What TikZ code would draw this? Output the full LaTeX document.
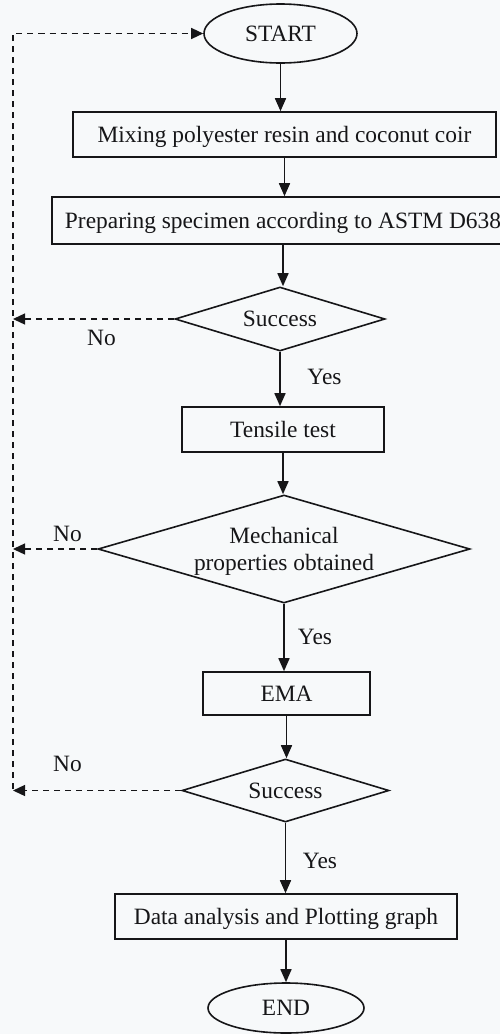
\documentclass[tikz,border=0pt]{standalone}
\usepackage{fontspec}
\setmainfont{Liberation Serif}
\usetikzlibrary{shapes.geometric,arrows.meta}
\definecolor{ink}{RGB}{22,22,24}
\definecolor{bgc}{RGB}{247,249,250}
\begin{document}
\begin{tikzpicture}[x=1pt,y=-1pt,
  every node/.style={font=\fontsize{23.4}{27}\selectfont, text=ink},
  procbox/.style={draw=ink, line width=1.6pt, rectangle, inner sep=0pt, text height=15.5pt, text depth=0pt},
  termnode/.style={draw=ink, line width=1.6pt, ellipse, inner sep=0pt, text height=15.5pt, text depth=0pt},
  decision/.style={draw=ink, line width=1.6pt, diamond, inner sep=0pt, aspect=3.3},
  flow/.style={draw=ink, line width=1.6pt, -{Triangle[length=13pt,width=11pt]}},
  back/.style={draw=ink, line width=1.3pt, dash pattern=on 6pt off 5pt, -{Triangle[length=12pt,width=11pt]}},
  lbl/.style={inner sep=0pt, text height=15.5pt, text depth=0pt}
]
\path[use as bounding box, fill=bgc] (0,0) rectangle (500,1034);

\node[termnode, minimum width=153pt, minimum height=59pt] (start) at (280.5,33.5) {START};
\node[procbox, minimum width=423pt, minimum height=45pt] (mix) at (284.5,134.5) {Mixing polyester resin and coconut coir};
\node[procbox, minimum width=462pt, minimum height=47pt] (prep) at (283,220.5) {Preparing specimen according to ASTM D638};
\node[decision, minimum width=210pt, minimum height=64pt, text height=15.5pt, text depth=0pt] (s1) at (280,319) {Success};
\node[procbox, minimum width=202pt, minimum height=45pt] (tens) at (283,429.5) {Tensile test};
\node[decision, minimum width=372pt, minimum height=108pt, align=center, text depth=0pt] (mech) at (284,549) {Mechanical\\properties obtained};
\node[procbox, minimum width=167pt, minimum height=43pt] (ema) at (286.5,693.5) {EMA};
\node[decision, minimum width=207pt, minimum height=63pt, text height=15.5pt, text depth=0pt] (s2) at (285.5,790.5) {Success};
\node[procbox, minimum width=342pt, minimum height=45pt] (data) at (286,916.5) {Data analysis and Plotting graph};
\node[termnode, minimum width=156pt, minimum height=50pt] (end) at (286,1008) {END};

\draw[flow] (start.south) -- (start.south |- mix.north);
\draw[flow] (mix.south) -- (mix.south |- prep.north);
\draw[flow] (prep.south) -- (prep.south |- s1.north);
\draw[flow] (s1.south) -- (s1.south |- tens.north);
\draw[flow] (tens.south) -- (tens.south |- mech.north);
\draw[flow] (mech.south) -- (mech.south |- ema.north);
\draw[flow] (ema.south) -- (ema.south |- s2.north);
\draw[flow] (s2.south) -- (s2.south |- data.north);
\draw[flow] (data.south) -- (data.south |- end.north);

\coordinate (lbot) at (13,789);
\draw[back] (lbot) |- (start.west);
\draw[back] (s1.west) -- (s1.west -| lbot);
\draw[back] (mech.west) -- (mech.west -| lbot);
\draw[back] (s2.west) -- (s2.west -| lbot);

\node[lbl] (no1) at (101.5,338) {No};
\node[lbl] (no2) at (67.5,533.5) {No};
\node[lbl] (no3) at (67.5,764) {No};
\node[lbl] (yes1) at (324.5,376.5) {Yes};
\node[lbl] (yes2) at (315,636.5) {Yes};
\node[lbl] (yes3) at (320,860.5) {Yes};
\end{tikzpicture}
\end{document}
